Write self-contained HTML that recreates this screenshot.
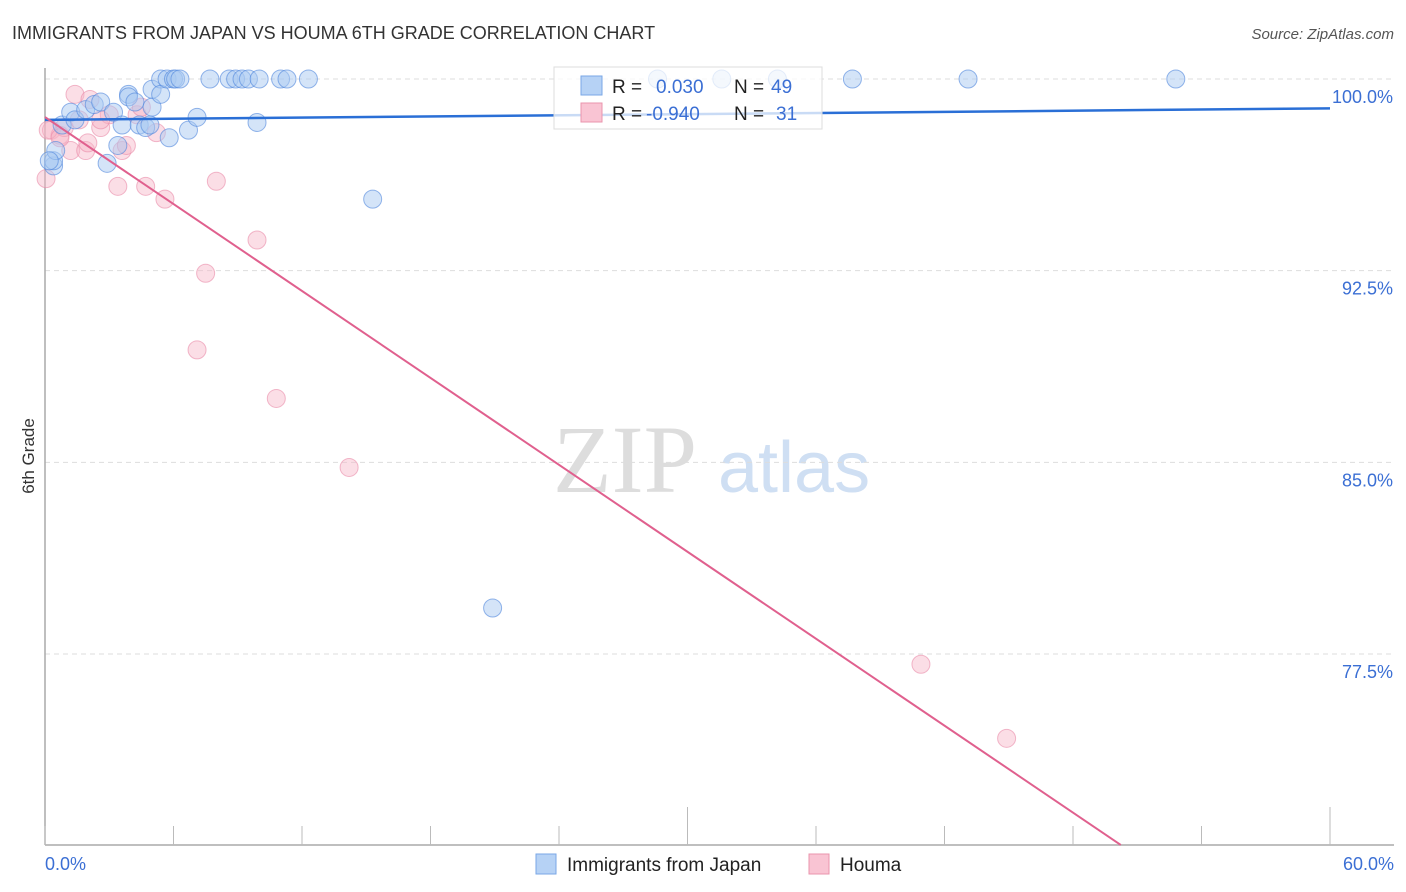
<!DOCTYPE html>
<html><head><meta charset="utf-8"><style>
body{margin:0;background:#fff;font-family:"Liberation Sans",sans-serif;}
svg{display:block}
</style></head><body>
<svg id="chart" width="1406" height="892" xmlns="http://www.w3.org/2000/svg" font-family="Liberation Sans, sans-serif">
<text x="12" y="39" font-size="18" fill="#333">IMMIGRANTS FROM JAPAN VS HOUMA 6TH GRADE CORRELATION CHART</text>
<text x="1394" y="39" font-size="15" fill="#555" font-style="italic" text-anchor="end">Source: ZipAtlas.com</text>
<text transform="translate(34,456) rotate(-90)" font-size="17" fill="#333" text-anchor="middle">6th Grade</text>
<g><text x="553" y="492" font-size="96" font-family="Liberation Serif, serif" fill="#ddd">ZIP</text><text x="718" y="492" font-size="72" fill="#cfdff3">atlas</text></g>
<g id="grid"></g><g id="axes"></g><g id="pts"></g><g id="trends"></g>
<g>
<rect x="554" y="67" width="268" height="62" fill="#fff" fill-opacity="0.75" stroke="#ddd"/>
<rect x="581" y="76" width="21" height="19" fill="#b6d2f5" stroke="#7aa7e6"/>
<text x="612" y="93" font-size="19" fill="#222">R = </text><text x="656" y="93" font-size="19" fill="#3b6fd4">0.030</text>
<text x="734" y="93" font-size="19" fill="#222">N = </text><text x="771" y="93" font-size="19" fill="#3b6fd4">49</text>
<rect x="581" y="103" width="21" height="19" fill="#f9c4d3" stroke="#ea94ad"/>
<text x="612" y="120" font-size="19" fill="#222">R = </text><text x="646" y="120" font-size="19" fill="#3b6fd4">-0.940</text>
<text x="734" y="120" font-size="19" fill="#222">N = </text><text x="776" y="120" font-size="19" fill="#3b6fd4">31</text>
</g>
<g>
<rect x="536" y="854" width="20" height="20" fill="#b6d2f5" stroke="#7aa7e6"/>
<text x="567" y="871" font-size="19" fill="#222">Immigrants from Japan</text>
<rect x="809" y="854" width="20" height="20" fill="#f9c4d3" stroke="#ea94ad"/>
<text x="840" y="871" font-size="19" fill="#222">Houma</text>
</g>
</svg>
<script>
const yTicks=[100,92.5,85,77.5];
const yTickLabels=["100.0%","92.5%","85.0%","77.5%"];
const xTicks=[0,6,12,18,24,30,36,42,48,54,60];
const xEndLabels=["0.0%","60.0%"];
const japanX=[0.4,0.4,0.5,0.2,0.8,1.2,1.4,1.9,2.3,2.6,2.9,3.2,3.4,3.6,3.9,3.9,4.2,4.4,4.7,4.9,5.0,5.0,5.4,5.4,5.7,5.8,6.0,6.1,6.3,6.7,7.1,7.7,8.6,8.9,9.2,9.5,9.9,10.0,11.0,11.3,12.3,15.3,20.9,28.6,31.6,34.2,37.7,43.1,52.8];
const japanY=[96.6,96.8,97.2,96.8,98.2,98.7,98.4,98.8,99.0,99.1,96.7,98.7,97.4,98.2,99.4,99.3,99.1,98.2,98.1,98.2,98.9,99.6,100,99.4,100,97.7,100,100,100,98.0,98.5,100,100,100,100,100,98.3,100,100,100,100,95.3,79.3,100,100,100,100,100,100];
const houmaX=[0.05,0.3,0.7,0.9,1.2,1.4,1.6,1.9,2.0,2.1,2.6,3.0,3.4,3.6,3.8,4.3,4.5,4.7,5.2,5.6,7.5,7.1,8.0,9.9,10.8,14.2,40.9,44.9,0.15,0.7,2.6];
const houmaY=[96.1,98.0,97.8,98.1,97.2,99.4,98.4,97.2,97.5,99.2,98.1,98.6,95.8,97.2,97.4,98.6,98.9,95.8,97.9,95.3,92.4,89.4,96.0,93.7,87.5,84.8,77.1,74.2,98.0,97.7,98.4];
const japanTrend=[98.4,98.85];
const houmaTrend=[98.51,-0.567];
const NS="http://www.w3.org/2000/svg";
const X0=45,X1=1330,YTOP=79,YBOT=845;
const xs=v=>X0+(v/60)*(X1-X0);
const ys=v=>YTOP+(100-v)*(654-79)/22.5;
function mk(tag,attrs,parent){const e=document.createElementNS(NS,tag);for(const k in attrs)e.setAttribute(k,attrs[k]);document.getElementById(parent).appendChild(e);return e;}
yTicks.forEach((t,i)=>{
 const l=mk('line',{x1:X0,x2:1394,y1:ys(t),y2:ys(t),stroke:'#ddd','stroke-dasharray':'5,4'},'grid');
 
 
 const tx=mk('text',{x:1393,y:ys(t)+24,'font-size':18,fill:'#3b6fd4','text-anchor':'end'},'grid');
 tx.textContent=yTickLabels[i];
 
 
});
const ax=mk('line',{x1:X0,x2:X0,y1:68,y2:YBOT,stroke:'#aaa','stroke-width':1.5},'axes');


const bx=mk('line',{x1:X0,x2:1394,y1:YBOT,y2:YBOT,stroke:'#aaa','stroke-width':1.5},'axes');


xTicks.forEach((t,i)=>{
 const tall=(t===30||t===60);
 const k=mk('line',{x1:xs(t),x2:xs(t),y1:tall?807:826,y2:YBOT,stroke:'#bbb'},'axes');
 
 
});
[[0,'start',45],[60,'end',1394]].forEach((d,i)=>{
 const tx=mk('text',{x:d[2],y:870,'font-size':18,fill:'#3b6fd4','text-anchor':d[1]},'axes');
 tx.textContent=xEndLabels[i];
 
 
});
houmaX.forEach((v,i)=>{
 const c=mk('circle',{cx:xs(v),cy:ys(houmaY[i]),r:9,fill:'#f7b5c8','fill-opacity':0.45,stroke:'#e98aa8','stroke-opacity':0.6},'pts');
 
 
});
japanX.forEach((v,i)=>{
 const c=mk('circle',{cx:xs(v),cy:ys(japanY[i]),r:9,fill:'#a9c9f2','fill-opacity':0.5,stroke:'#4f86dc','stroke-opacity':0.6},'pts');
 
 
});
const jl=mk('line',{x1:xs(0),y1:ys(japanTrend[0]),x2:xs(60),y2:ys(japanTrend[1]),stroke:'#2a6fd6','stroke-width':2.5},'trends');


const xEnd=(70.03-houmaTrend[0])/houmaTrend[1];
const hl=mk('line',{x1:xs(0),y1:ys(houmaTrend[0]),x2:xs(xEnd),y2:ys(houmaTrend[0]+houmaTrend[1]*xEnd),stroke:'#e0608e','stroke-width':2},'trends');


</script>
</body></html>
